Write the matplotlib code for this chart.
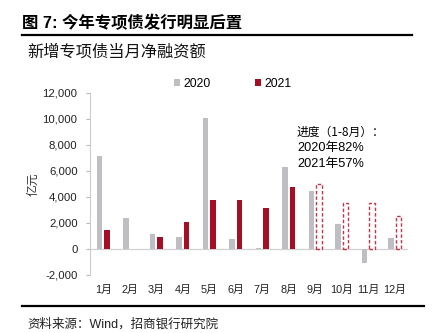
import matplotlib
matplotlib.use("Agg")
import matplotlib.pyplot as plt
import numpy as np
from matplotlib.patches import Patch
from matplotlib.lines import Line2D

plt.rcParams['font.family'] = ['Liberation Sans', 'Noto Sans CJK SC', 'DejaVu Sans']

months = ['1月', '2月', '3月', '4月', '5月', '6月', '7月', '8月', '9月', '10月', '11月', '12月']
issued_2020 = [7150, 2360, 1150, 950, 10050, 800, 100, 6310, 4440, 1950, -1100, 870]
issued_2021 = [1500, 20, 950, 2080, 3770, 3770, 3180, 4800]
planned_2021 = [5030, 3510, 3510, 2540]  # Sep-Dec, still to be issued
y_ticks = [-2000, 0, 2000, 4000, 6000, 8000, 10000, 12000]

gray = '#BFBFC3'
red = '#A50F25'
dash_red = '#C8334A'

fig = plt.figure(figsize=(4.32, 3.33), dpi=100)
ax = fig.add_axes([90 / 432, 58 / 333, 318 / 432, 182 / 333])

x = np.arange(len(months))
w = 0.21
off = 0.145
ax.bar(x - off, issued_2020, width=w, color=gray, zorder=2)
ax.bar(x[:len(issued_2021)] + off, issued_2021, width=w, color=red, zorder=2)
ax.bar(x[len(issued_2021):] + off, planned_2021, width=w, facecolor='white',
       edgecolor=dash_red, linestyle=(0, (2.5, 1.5)), linewidth=1.0, zorder=2)

ax.axhline(0, color='#D0D0D0', linewidth=0.9, zorder=1)
ax.set_xlim(-0.5, len(months) - 0.5)
ax.set_ylim(-2000, 12000)
ax.set_yticks(y_ticks)
ax.set_yticklabels([f'{v:,}' for v in y_ticks], fontsize=8.2, color='#222222')
ax.set_xticks(x)
ax.set_xticklabels(months, fontsize=7.8, color='#222222')
ax.tick_params(axis='x', length=0, pad=7)
ax.tick_params(axis='y', length=3, color='#BBBBBB', pad=6)
for s in ['top', 'right', 'bottom']:
    ax.spines[s].set_visible(False)
ax.spines['left'].set_color('#CCCCCC')
ax.spines['left'].set_linewidth(0.8)
ax.set_ylabel('亿元', fontsize=8.5, color='#333333',
              family=['Noto Sans CJK SC'], fontweight='light', labelpad=2)

handles = [Patch(facecolor=gray, edgecolor='none', label='2020'),
           Patch(facecolor=red, edgecolor='none', label='2021')]
fig.legend(handles=handles, loc='center left', bbox_to_anchor=(174 / 432, 1 - 84 / 333),
           ncol=2, frameon=False, fontsize=8.8, handlelength=0.5, handleheight=0.5,
           handletextpad=0.3, columnspacing=3.6, borderaxespad=0, borderpad=0)

note_x = 297 / 432
fig.text(note_x, 1 - 132 / 333, '进度（1-8月）：', fontsize=8.5, va='center', ha='left',
         family=['Noto Sans CJK SC'], fontweight='light')
fig.text(note_x, 1 - 148 / 333, '2020年82%', fontsize=9.2, va='center', ha='left')
fig.text(note_x, 1 - 164 / 333, '2021年57%', fontsize=9.2, va='center', ha='left')

# Header, rules and source line
fig.text(22 / 432, 1 - 23 / 333, '图 7: 今年专项债发行明显后置', fontsize=11.8, fontweight='bold',
         va='center', ha='left')
fig.add_artist(Line2D([22 / 432, 412 / 432], [1 - 35 / 333, 1 - 35 / 333],
                      color='black', linewidth=1.6, transform=fig.transFigure))
fig.text(27 / 432, 1 - 52 / 333, '新增专项债当月净融资额', fontsize=11.7, va='center', ha='left',
         family=['Noto Sans CJK SC'], fontweight='light', color='#111111')
fig.add_artist(Line2D([22 / 432, 424 / 432], [1 - 306 / 333, 1 - 306 / 333],
                      color='black', linewidth=1.6, transform=fig.transFigure))
fig.text(27 / 432, 1 - 324 / 333, '资料来源：Wind，招商银行研究院', fontsize=9, va='center',
         ha='left', color='#222222')

fig.savefig('out.png', dpi=100)
